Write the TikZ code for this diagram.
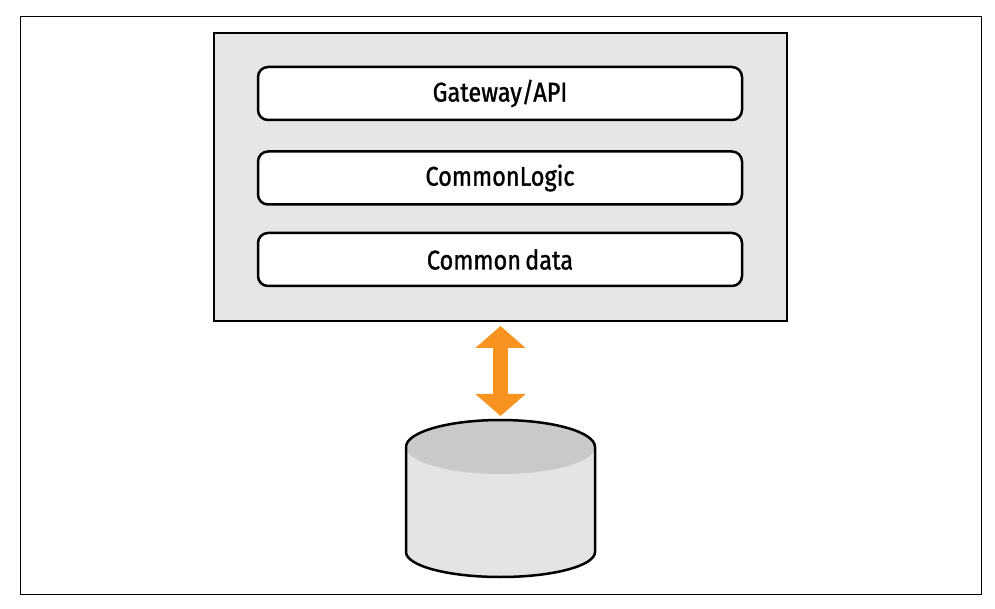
\documentclass[tikz,border=0pt]{standalone}
\usepackage{fontspec}
\setmainfont{Fira Sans}
\newfontfamily\layerfont{Fira Sans}[FakeStretch=0.87, FakeBold=1.2]
\usetikzlibrary{arrows.meta}
\definecolor{panelgray}{HTML}{E6E6E6}
\definecolor{dbtopgray}{HTML}{C9C9C9}
\definecolor{dbbodygray}{HTML}{E4E4E4}
\definecolor{flow}{HTML}{F7931E}

\begin{document}
\begin{tikzpicture}[x=1pt,y=1pt,
  layer/.style={draw, line width=2.5pt, rounded corners=10pt, fill=white,
    minimum width=484pt, minimum height=53pt, inner sep=0pt,
    font=\layerfont\fontsize{27}{31}\selectfont},
  flowarrow/.style={draw=flow, line width=15pt,
    {Triangle[length=22pt,width=49pt]}-{Triangle[length=22pt,width=49pt]},
    shorten <=4pt, shorten >=4pt}]
\useasboundingbox (0,0) rectangle (995,608);
\draw[line width=1pt] (20,14) rectangle (981,591);
% service box with its three layers
\node[draw, line width=2pt, fill=panelgray, minimum width=573pt,
  minimum height=288pt] (server) at (500.5,431) {};
\node[layer] (gateway) at (500,514.5) {Gateway/API};
\node[layer] (logic) at (500,430) {CommonLogic};
\node[layer] (data) at (500,348.5) {Common\hspace{-2pt} data};
% database
\fill[dbbodygray] (406,161) -- (406,56) arc[start angle=180, end angle=360,
  x radius=94.5, y radius=25] -- (595,161) -- cycle;
\fill[dbtopgray] (500.5,161) ellipse[x radius=94.5, y radius=27];
\draw[line width=2.5pt] (406,161) -- (406,56) arc[start angle=180,
  end angle=360, x radius=94.5, y radius=25] -- (595,161)
  arc[start angle=0, end angle=180, x radius=94.5, y radius=27];
\coordinate (dbtop) at (500.5,188);
\draw[flowarrow] (server.south) -- (dbtop);
\end{tikzpicture}
\end{document}
